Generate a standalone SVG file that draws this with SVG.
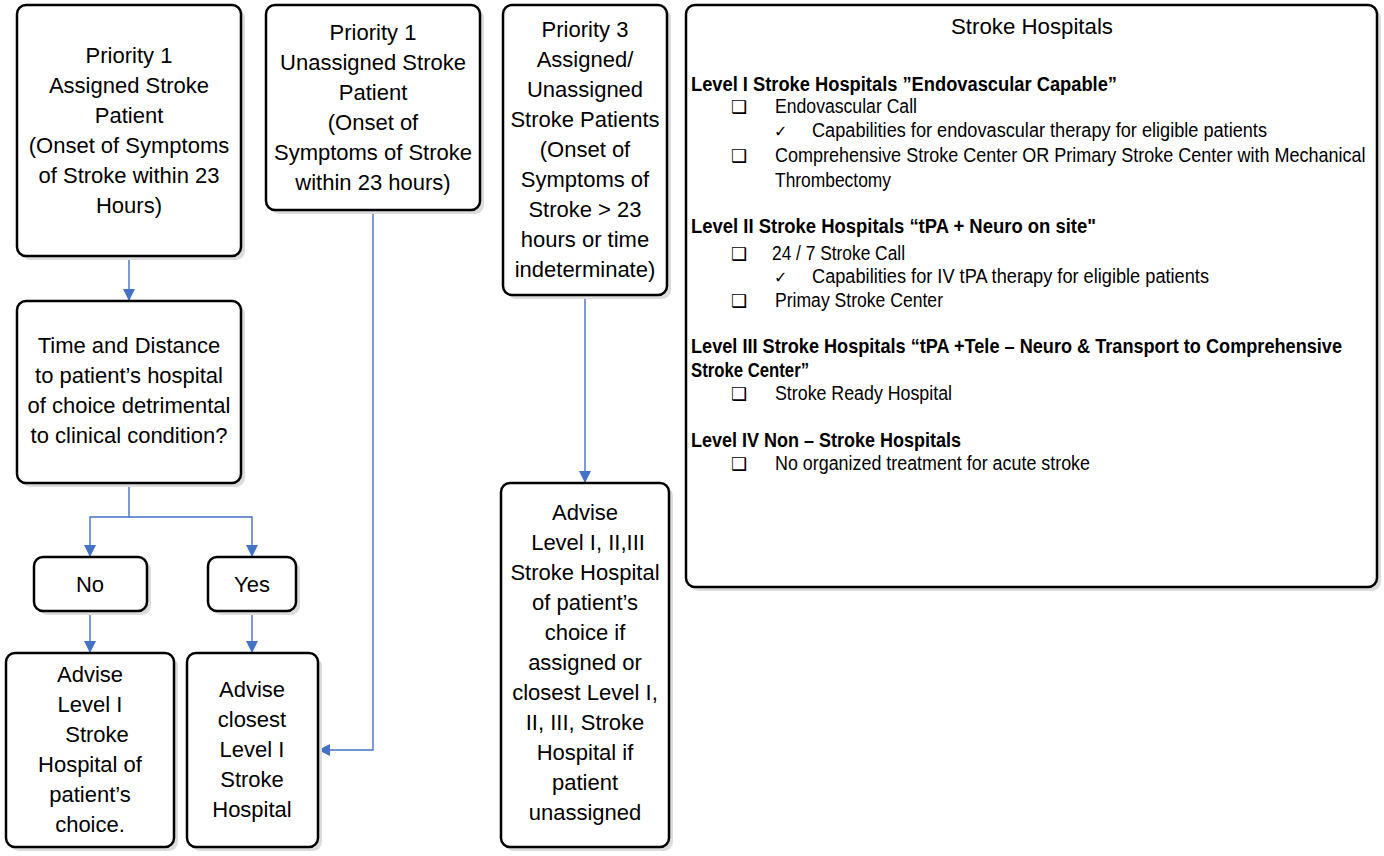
<svg xmlns="http://www.w3.org/2000/svg" width="1384" height="856" viewBox="0 0 1384 856">
<defs>
<style>
.box{fill:#fff;stroke:#000;stroke-width:2.5}
.sh{fill:#dcdcdc;stroke:none}
.t{font-family:"Liberation Sans",Arial,sans-serif;font-size:22px;fill:#000;text-anchor:middle}
.r{font-family:"Liberation Sans",Arial,sans-serif;font-size:20px;fill:#000}
.ttl{font-size:22px}
.b{font-weight:bold}
.sym{font-family:"DejaVu Sans",sans-serif;font-size:18px;fill:#000}
.chk{font-family:"DejaVu Sans",sans-serif;font-size:16px;fill:#000}
.c{fill:none;stroke:#4472C4;stroke-width:1.4}
</style>
<marker id="ah" markerWidth="12" markerHeight="12" refX="11" refY="6" orient="auto" markerUnits="userSpaceOnUse">
<path d="M0,0 L12,6 L0,12 Z" fill="#4472C4"/>
</marker>
</defs>
<rect width="1384" height="856" fill="#fff"/>

<g id="connectors">
<path class="c" d="M129,256 V300" marker-end="url(#ah)"/>
<path class="c" d="M129,483 V517 H90 V556" marker-end="url(#ah)"/>
<path class="c" d="M129,517 H252 V556" marker-end="url(#ah)"/>
<path class="c" d="M90,611 V652" marker-end="url(#ah)"/>
<path class="c" d="M252,611 V652" marker-end="url(#ah)"/>
<path class="c" d="M373,210 V750 H319" marker-end="url(#ah)"/>
<path class="c" d="M585,295 V482" marker-end="url(#ah)"/>
</g>

<g id="p1-assigned">
<rect class="sh" x="21" y="9" width="224" height="251" rx="9"/>
<rect class="box" x="17" y="5" width="224" height="251" rx="9"/>
<text class="t" x="129" y="63">Priority 1</text>
<text class="t" x="129" y="93">Assigned Stroke</text>
<text class="t" x="129" y="123">Patient</text>
<text class="t" x="129" y="153">(Onset of Symptoms</text>
<text class="t" x="129" y="183">of Stroke within 23</text>
<text class="t" x="129" y="213">Hours)</text>
</g>

<g id="p1-unassigned">
<rect class="sh" x="270" y="9" width="214" height="205" rx="9"/>
<rect class="box" x="266" y="5" width="214" height="205" rx="9"/>
<text class="t" x="373" y="40">Priority 1</text>
<text class="t" x="373" y="70">Unassigned Stroke</text>
<text class="t" x="373" y="100">Patient</text>
<text class="t" x="373" y="130">(Onset of</text>
<text class="t" x="373" y="160">Symptoms of Stroke</text>
<text class="t" x="373" y="190">within 23 hours)</text>
</g>

<g id="p3">
<rect class="sh" x="507" y="9" width="164" height="290" rx="9"/>
<rect class="box" x="503" y="5" width="164" height="290" rx="9"/>
<text class="t" x="585" y="37">Priority 3</text>
<text class="t" x="585" y="67">Assigned/</text>
<text class="t" x="585" y="97">Unassigned</text>
<text class="t" x="585" y="127">Stroke Patients</text>
<text class="t" x="585" y="157">(Onset of</text>
<text class="t" x="585" y="187">Symptoms of</text>
<text class="t" x="585" y="217">Stroke &gt; 23</text>
<text class="t" x="585" y="247">hours or time</text>
<text class="t" x="585" y="277">indeterminate)</text>
</g>

<g id="time-distance">
<rect class="sh" x="21" y="305" width="224" height="182" rx="9"/>
<rect class="box" x="17" y="301" width="224" height="182" rx="9"/>
<text class="t" x="129" y="353">Time and Distance</text>
<text class="t" x="129" y="383">to patient’s hospital</text>
<text class="t" x="129" y="413">of choice detrimental</text>
<text class="t" x="129" y="443">to clinical condition?</text>
</g>

<g id="no">
<rect class="sh" x="38" y="561" width="113" height="54" rx="9"/>
<rect class="box" x="34" y="557" width="113" height="54" rx="9"/>
<text class="t" x="90" y="592">No</text>
</g>

<g id="yes">
<rect class="sh" x="212" y="561" width="88" height="54" rx="9"/>
<rect class="box" x="208" y="557" width="88" height="54" rx="9"/>
<text class="t" x="252" y="592">Yes</text>
</g>

<g id="advise-level1-choice">
<rect class="sh" x="10" y="657" width="168" height="194" rx="9"/>
<rect class="box" x="6" y="653" width="168" height="194" rx="9"/>
<text class="t" x="90" y="682">Advise</text>
<text class="t" x="90" y="712">Level I</text>
<text class="t" x="97" y="742">Stroke</text>
<text class="t" x="90" y="772">Hospital of</text>
<text class="t" x="90" y="802">patient’s</text>
<text class="t" x="90" y="832">choice.</text>
</g>

<g id="advise-closest-level1">
<rect class="sh" x="191" y="657" width="131" height="194" rx="9"/>
<rect class="box" x="187" y="653" width="131" height="194" rx="9"/>
<text class="t" x="252" y="697">Advise</text>
<text class="t" x="252" y="727">closest</text>
<text class="t" x="252" y="757">Level I</text>
<text class="t" x="252" y="787">Stroke</text>
<text class="t" x="252" y="817">Hospital</text>
</g>

<g id="advise-level123">
<rect class="sh" x="505" y="487" width="168" height="364" rx="9"/>
<rect class="box" x="501" y="483" width="168" height="364" rx="9"/>
<text class="t" x="585" y="520">Advise</text>
<text class="t" x="588" y="550">Level I, II,III</text>
<text class="t" x="585" y="580">Stroke Hospital</text>
<text class="t" x="585" y="610">of patient’s</text>
<text class="t" x="585" y="640">choice if</text>
<text class="t" x="585" y="670">assigned or</text>
<text class="t" x="585" y="700">closest Level I,</text>
<text class="t" x="585" y="730">II, III, Stroke</text>
<text class="t" x="585" y="760">Hospital if</text>
<text class="t" x="585" y="790">patient</text>
<text class="t" x="585" y="820">unassigned</text>
</g>

<g id="stroke-hospitals">
<rect class="sh" x="690" y="9" width="691" height="582" rx="9"/>
<rect class="box" x="686" y="5" width="691" height="582" rx="9"/>
<text class="r ttl" x="951" y="34" textLength="162" lengthAdjust="spacingAndGlyphs">Stroke Hospitals</text>
<text class="r b" x="691" y="91" textLength="426" lengthAdjust="spacingAndGlyphs">Level I Stroke Hospitals ”Endovascular Capable”</text>
<text class="sym" x="731" y="113">❑</text>
<text class="r" x="775" y="113" textLength="142" lengthAdjust="spacingAndGlyphs">Endovascular Call</text>
<text class="chk" x="774" y="137">✓</text>
<text class="r" x="812" y="137" textLength="455" lengthAdjust="spacingAndGlyphs">Capabilities for endovascular therapy for eligible patients</text>
<text class="sym" x="731" y="162">❑</text>
<text class="r" transform="translate(775,162) scale(0.84,1)" x="0" y="0" textLength="703" lengthAdjust="spacingAndGlyphs">Comprehensive Stroke Center OR Primary Stroke Center with  Mechanical</text>
<text class="r" x="775" y="187" textLength="116" lengthAdjust="spacingAndGlyphs">Thrombectomy</text>
<text class="r b" x="691" y="233" textLength="405" lengthAdjust="spacingAndGlyphs">Level II  Stroke Hospitals “tPA + Neuro on site"</text>
<text class="sym" x="731" y="260">❑</text>
<text class="r" x="772" y="260" textLength="133" lengthAdjust="spacingAndGlyphs">24 / 7 Stroke Call</text>
<text class="chk" x="774" y="283">✓</text>
<text class="r" x="812" y="283" textLength="397" lengthAdjust="spacingAndGlyphs">Capabilities for IV tPA therapy for eligible patients</text>
<text class="sym" x="731" y="307">❑</text>
<text class="r" x="775" y="307" textLength="168" lengthAdjust="spacingAndGlyphs">Primay Stroke Center</text>
<text class="r b" transform="translate(691,353) scale(0.84,1)" x="0" y="0" textLength="775" lengthAdjust="spacingAndGlyphs">Level III Stroke Hospitals “tPA +Tele – Neuro &amp; Transport to Comprehensive</text>
<text class="r b" x="691" y="377" textLength="118" lengthAdjust="spacingAndGlyphs">Stroke Center”</text>
<text class="sym" x="731" y="400">❑</text>
<text class="r" x="775" y="400" textLength="177" lengthAdjust="spacingAndGlyphs">Stroke Ready Hospital</text>
<text class="r b" x="691" y="447" textLength="270" lengthAdjust="spacingAndGlyphs">Level IV Non – Stroke Hospitals</text>
<text class="sym" x="731" y="470">❑</text>
<text class="r" x="775" y="470" textLength="315" lengthAdjust="spacingAndGlyphs">No organized treatment for acute stroke</text>
</g>
</svg>
